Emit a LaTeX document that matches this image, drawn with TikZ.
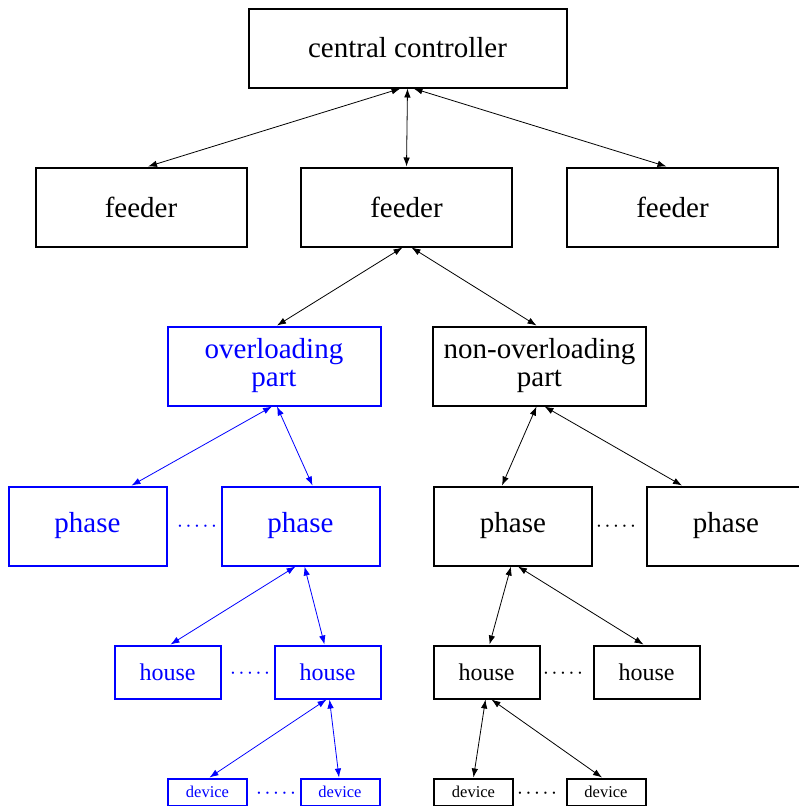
\documentclass[tikz,border=0pt]{standalone}
\usepackage{fontspec}
\setmainfont{Liberation Serif}
\usetikzlibrary{arrows.meta}
\definecolor{ovblue}{RGB}{0,0,255}
\newcommand{\gapdots}{·\kern2.2pt·\kern2.2pt·\kern2.2pt·\kern2.2pt·}
\begin{document}
\begin{tikzpicture}[x=1pt,y=-1pt,
  box/.style={draw, rectangle, line width=2pt, inner sep=0pt, align=center},
  bigbox/.style={box, minimum height=79pt, font=\fontsize{29}{28}\selectfont},
  housebox/.style={box, minimum width=106pt, minimum height=53pt, font=\fontsize{24}{26}\selectfont},
  devbox/.style={box, minimum width=79pt, minimum height=27pt, font=\fontsize{16.5}{18}\selectfont},
  gap/.style={inner sep=0pt, font=\fontsize{19}{19}\selectfont},
  link/.style={{Latex[length=9pt,width=6.5pt]}-{Latex[length=9pt,width=6.5pt]}, line width=0.8pt},
  hot/.style={ovblue, text=ovblue}
]
\useasboundingbox (0,0) rectangle (799,806);

% top level
\node[bigbox, minimum width=318pt] (cc) at (407.5,48) {central controller};
\node[bigbox, minimum width=211pt] (f1) at (141,207) {feeder};
\node[bigbox, minimum width=211pt] (f2) at (406.5,207) {feeder};
\node[bigbox, minimum width=211pt] (f3) at (672.5,207) {feeder};

% split of the middle feeder
\node[bigbox, hot, minimum width=213pt] (ov) at (274,366) {overloading\\part};
\node[bigbox, minimum width=213pt] (nov) at (539.5,366) {non-overloading\\part};

% phases
\node[bigbox, hot, minimum width=158pt] (p1) at (87.5,526) {phase};
\node[bigbox, hot, minimum width=158pt] (p2) at (300.5,526) {phase};
\node[bigbox, minimum width=158pt] (p3) at (513,526) {phase};
\node[bigbox, minimum width=158pt] (p4) at (726,526) {phase};
\node[gap, ovblue] (pd1) at (197,529) {\gapdots};
\node[gap] (pd2) at (616,529) {\gapdots};

% houses
\node[housebox, hot] (h1) at (167.5,672) {house};
\node[housebox, hot] (h2) at (327.5,672) {house};
\node[housebox] (h3) at (486.5,672) {house};
\node[housebox] (h4) at (646.5,672) {house};
\node[gap, ovblue] (hd1) at (250,676) {\gapdots};
\node[gap] (hd2) at (563,676) {\gapdots};

% devices
\node[devbox, hot] (d1) at (207.5,792) {device};
\node[devbox, hot] (d2) at (340,792) {device};
\node[devbox] (d3) at (473.5,792) {device};
\node[devbox] (d4) at (606,792) {device};
\node[gap, ovblue] (dd1) at (276,796) {\gapdots};
\node[gap] (dd2) at (537,796) {\gapdots};

% connections
\draw[link] ([xshift=-7pt]cc.south) -- ([xshift=7pt]f1.north);
\draw[link] (cc.south) -- (f2.north);
\draw[link] ([xshift=6pt]cc.south) -- ([xshift=-6pt]f3.north);

\draw[link] ([xshift=-4pt]f2.south) -- ([xshift=3pt]ov.north);
\draw[link] ([xshift=5pt]f2.south) -- ([xshift=-3pt]nov.north);

\draw[link, ovblue] ([xshift=-2pt]ov.south) -- ([xshift=44pt]p1.north);
\draw[link, ovblue] ([xshift=3pt]ov.south) -- ([xshift=12pt]p2.north);
\draw[link] ([xshift=-3pt]nov.south) -- ([xshift=-11pt]p3.north);
\draw[link] ([xshift=5pt]nov.south) -- ([xshift=-44pt]p4.north);

\draw[link, ovblue] ([xshift=-5pt]p2.south) -- ([xshift=3pt]h1.north);
\draw[link, ovblue] ([xshift=4pt]p2.south) -- ([xshift=-3pt]h2.north);
\draw[link] ([xshift=-2pt]p3.south) -- ([xshift=3pt]h3.north);
\draw[link] ([xshift=5pt]p3.south) -- ([xshift=-3pt]h4.north);

\draw[link, ovblue] ([xshift=-1pt]h2.south) -- ([xshift=2pt]d1.north);
\draw[link, ovblue] ([xshift=2pt]h2.south) -- ([xshift=-1pt]d2.north);
\draw[link] ([xshift=-1pt]h3.south) -- (d3.north);
\draw[link] ([xshift=5pt]h3.south) -- ([xshift=-4pt]d4.north);
\end{tikzpicture}
\end{document}
